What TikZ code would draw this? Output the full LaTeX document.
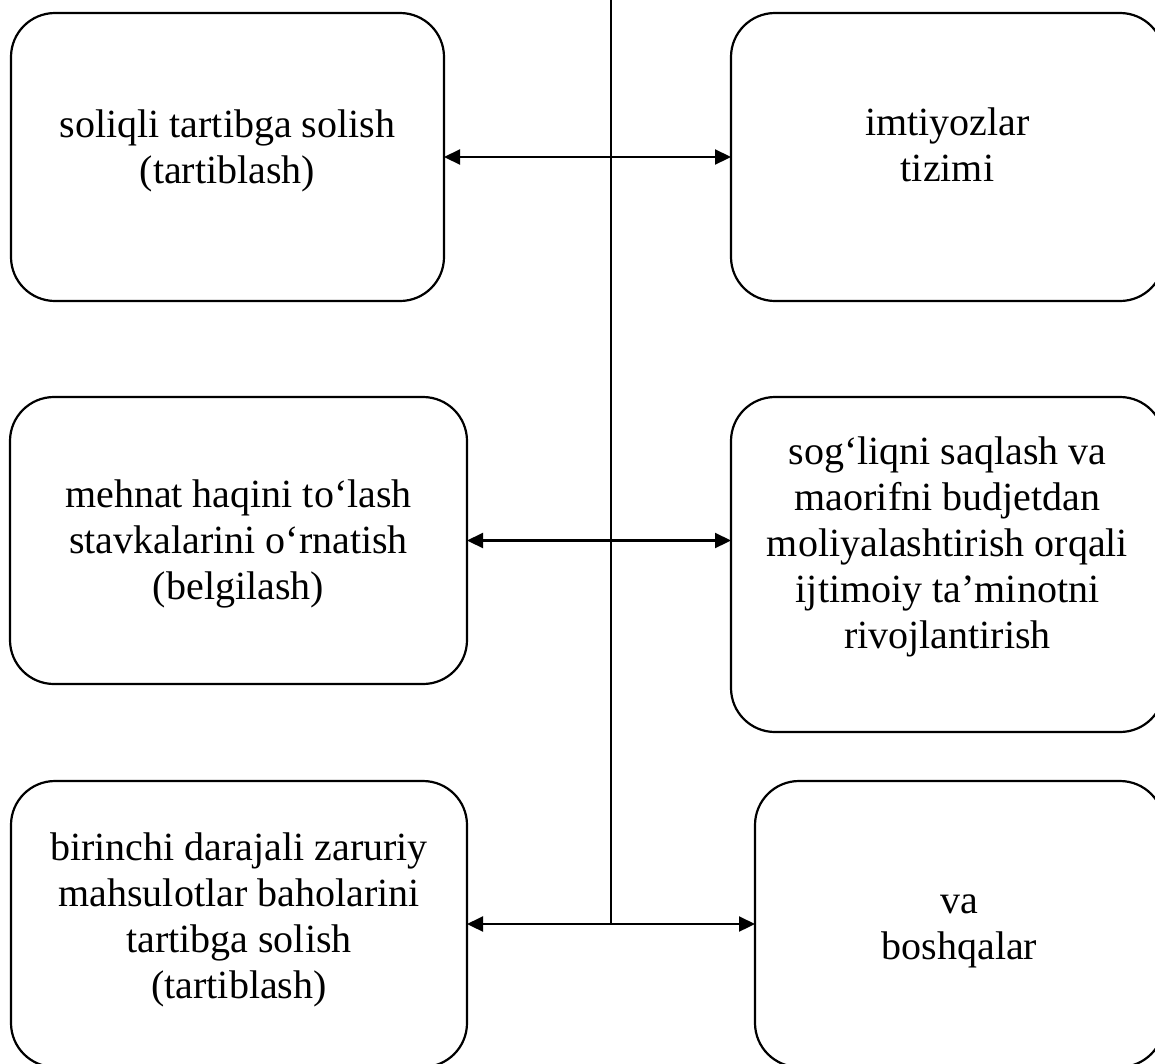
\documentclass[tikz,border=0pt]{standalone}
\usepackage{fontspec}
\setmainfont{Liberation Serif}
\usetikzlibrary{arrows.meta}
\begin{document}
\begin{tikzpicture}[x=1pt,y=-1pt,
  box/.style={draw, line width=2.2pt, rounded corners=44pt, inner sep=0pt, outer sep=0pt},
  txt/.style={align=center, inner sep=0pt, font=\fontsize{40}{46}\selectfont},
  conn/.style={line width=2.2pt},
  biarrow/.style={line width=2.2pt, {Triangle[length=16pt,width=15pt]}-{Triangle[length=16pt,width=15pt]}}
]
\useasboundingbox (0,0) rectangle (1155,1063);
\clip (0,0) rectangle (1155,1063);
% boxes
\node[box, minimum width=433pt, minimum height=288pt] (b1) at (227.5,157) {};
\node[box, minimum width=433pt, minimum height=288pt] (b2) at (947.5,157) {};
\node[box, minimum width=457pt, minimum height=287pt] (b3) at (238.5,540.5) {};
\node[box, minimum width=433pt, minimum height=335pt] (b4) at (947.5,564.5) {};
\node[box, minimum width=456pt, minimum height=286pt] (b5) at (239,924) {};
\node[box, minimum width=409pt, minimum height=286pt] (b6) at (959.5,924) {};
% texts
\node[txt] (t1) at (227.5,150.5) {soliqli tartibga solish\\(tartiblash)};
\node[txt] (t2) at (947.5,145) {imtiyozlar\\tizimi};
\node[txt] (t3) at (238.5,544) {mehnat haqini to‘lash\\stavkalarini o‘rnatish\\(belgilash)};
\node[txt] (t4) at (947.5,547) {sog‘liqni saqlash va\\maorifni budjetdan\\moliyalashtirish orqali\\ijtimoiy ta’minotni\\rivojlantirish};
\node[txt] (t5) at (239,920) {birinchi darajali zaruriy\\mahsulotlar baholarini\\tartibga solish\\(tartiblash)};
\node[txt] (t6) at (959.5,931) {va\\boshqalar};
% vertical spine
\coordinate (top) at (611,-5);
\coordinate (jb) at (611,924);
\draw[conn] (top) -- (jb);
% arrows
\draw[biarrow] (b1.east) -- (b2.west);
\draw[biarrow] (b3.east) -- (b3.east -| b4.west);
\draw[biarrow] (b5.east) -- (b6.west);
\end{tikzpicture}
\end{document}
